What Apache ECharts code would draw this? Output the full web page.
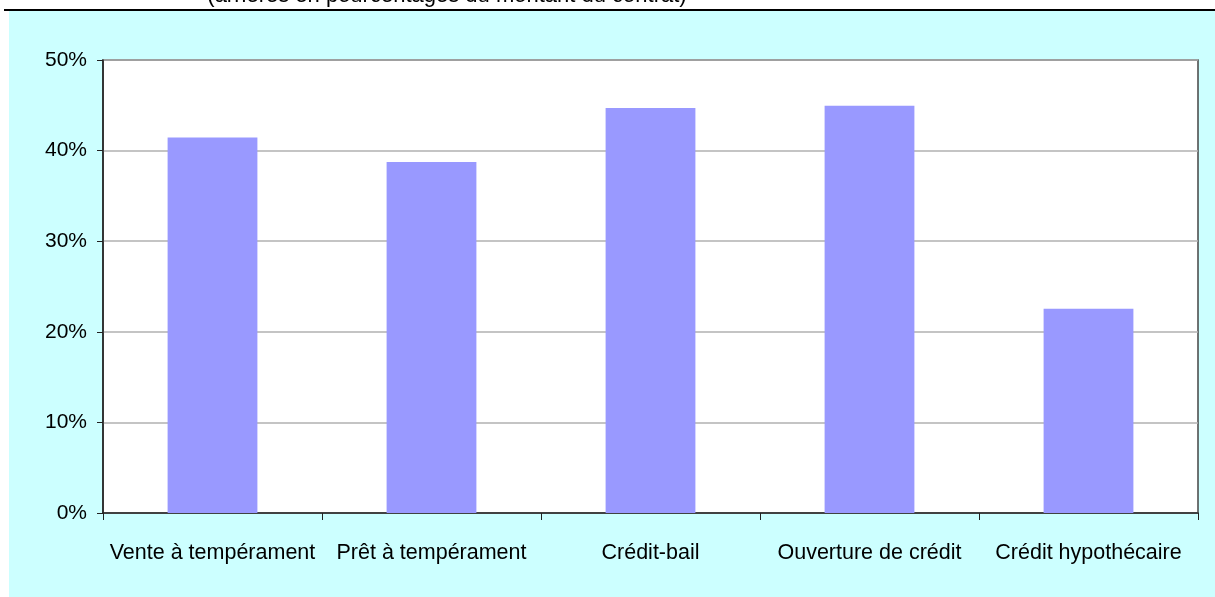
<!DOCTYPE html>
<html>
<head>
<meta charset="utf-8">
<script src="https://cdn.jsdelivr.net/npm/echarts@6/dist/echarts.min.js"></script>
<style>html,body{margin:0;padding:0;background:#fff;}#c{width:1215px;height:597px;}</style>
</head>
<body>
<div id="c"></div>
<script>
const categories = ['Vente à tempérament', 'Prêt à tempérament', 'Crédit-bail', 'Ouverture de crédit', 'Crédit hypothécaire'];
const values = [41.45, 38.75, 44.7, 44.95, 22.55];
const titleText = '(arriérés en pourcentages du montant du contrat)';

const chart = echarts.init(document.getElementById('c'), null, {renderer: 'canvas'});
chart.setOption({
  backgroundColor: '#ffffff',
  animation: false,
  textStyle: {fontFamily: 'Liberation Sans, Arial, sans-serif'},
  graphic: [
    {type: 'rect', z: -10, shape: {x: 9, y: 11, width: 1206, height: 586}, style: {fill: '#CCFFFF'}},
    {type: 'rect', z: -9, shape: {x: 4, y: 9, width: 1211, height: 2}, style: {fill: '#000000'}},
    {type: 'text', z: 10, x: 447, y: -4.5, style: {text: titleText, fill: '#000', font: '22px "Liberation Sans", Arial, sans-serif', align: 'center', verticalAlign: 'middle'}}
  ],
  grid: {left: 103, right: 17, top: 60, bottom: 84, show: true, backgroundColor: '#ffffff', borderColor: '#444', borderWidth: 1.5},
  xAxis: {
    type: 'category',
    data: categories,
    boundaryGap: true,
    axisLine: {lineStyle: {color: '#222', width: 1.5}},
    axisTick: {show: true, length: 7, inside: false, lineStyle: {color: '#222', width: 1}},
    axisLabel: {color: '#000', fontSize: 21.5, margin: 29, interval: 0}
  },
  yAxis: {
    type: 'value',
    min: 0, max: 50, interval: 10,
    axisLine: {show: true, lineStyle: {color: '#222', width: 1.5}},
    axisTick: {show: true, length: 6, lineStyle: {color: '#222', width: 1}},
    axisLabel: {color: '#000', fontSize: 21, margin: 16, formatter: '{value}%'},
    splitLine: {show: true, lineStyle: {color: '#b0b0b0', width: 1.5}}
  },
  series: [{
    type: 'bar',
    data: values,
    barWidth: '41%',
    itemStyle: {color: '#9999FF'}
  }]
});
</script>
</body>
</html>
